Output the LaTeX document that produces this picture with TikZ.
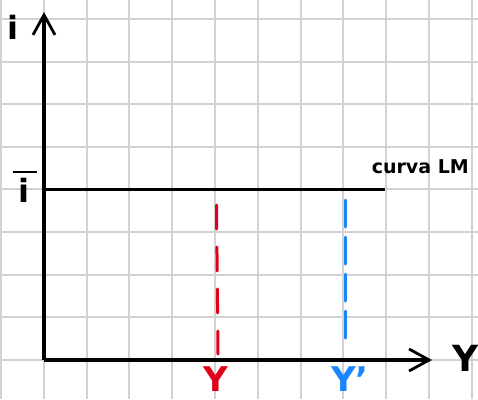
\documentclass[tikz,border=0pt]{standalone}
\usepackage{fontspec}
\setmainfont{DejaVu Sans}
\usetikzlibrary{arrows.meta}
\definecolor{gridgray}{HTML}{D2D2D2}
\definecolor{myred}{HTML}{E0001A}
\definecolor{myblue}{HTML}{1A85FF}
\tikzset{
  gridline/.style={draw=gridgray, line width=2pt},
  axisline/.style={draw=black, line width=3.4pt, -{Straight Barb[length=20pt,width=22pt,line width=2.8pt]}},
  lmline/.style={draw=black, line width=3pt},
  redline/.style={draw=myred, line width=3pt, dash pattern=on 24pt off 18pt, line cap=round},
  blueline/.style={draw=myblue, line width=3pt, dash pattern=on 27pt off 10pt, line cap=round},
  lbl/.style={inner sep=0pt, text depth=0pt, font=\bfseries}
}
\begin{document}
\begin{tikzpicture}[x=1pt,y=-1pt]
\useasboundingbox (0,0) rectangle (478,399);
\fill[white] (0,0) rectangle (478,399);
% grid
\foreach \k in {0,...,11} {
  \draw[gridline] ({1+42.8*\k},0) -- ({1+42.8*\k},399);
}
\foreach \k in {0,...,8} {
  \draw[gridline] (0,{19+42.6*\k}) -- (478,{19+42.6*\k});
}
% coordinates
\coordinate (O) at (44,360);
\coordinate (Ytop) at (44,12);
\coordinate (Xend) at (432,360);
\coordinate (LMa) at (44,189.5);
\coordinate (LMb) at (385,189.5);
\coordinate (Ra) at (216.5,205);
\coordinate (Rb) at (218,354);
\coordinate (Ba) at (345,200);
\coordinate (Bb) at (345,340);
% axes
\draw[axisline] (O) -- (Ytop);
\draw[axisline] (O) -- (Xend);
% LM
\draw[lmline] (LMa) -- (LMb);
% dashed
\draw[redline] (Ra) -- (Rb);
\draw[blueline] (Ba) -- (Bb);
% labels
\node[lbl, font=\bfseries\fontsize{32}{32}\selectfont, anchor=base] (ilab) at (13,39) {i};
\node[lbl, font=\bfseries\fontsize{32}{32}\selectfont, anchor=base] (ibar) at (24,202) {i};
\draw[line width=2.6pt] (13,172) -- (37,172);
\node[lbl, font=\bfseries\fontsize{19}{19}\selectfont, anchor=base east] (lm) at (469,173) {curva LM};
\node[lbl, font=\bfseries\fontsize{36}{36}\selectfont, anchor=base] (ylab) at (466,371) {Y};
\node[lbl, font=\bfseries\fontsize{34}{34}\selectfont, anchor=base, text=myred] (yred) at (216,391) {Y};
\node[lbl, font=\bfseries\fontsize{34}{34}\selectfont, anchor=base, text=myblue] (yblue) at (350,391) {Y’};
\end{tikzpicture}
\end{document}
